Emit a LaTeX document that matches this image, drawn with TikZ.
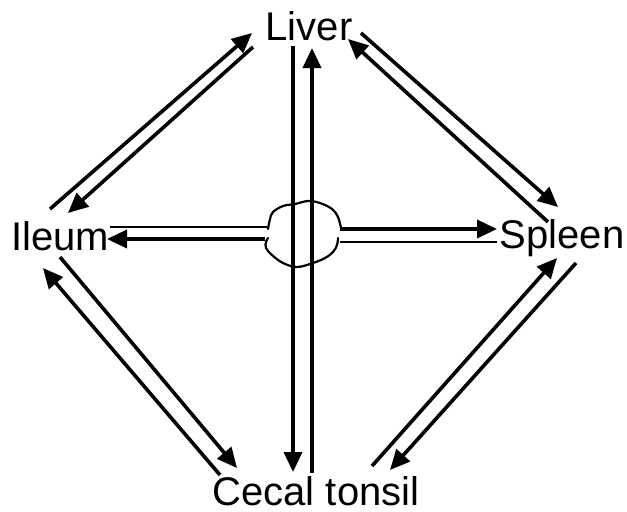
\documentclass[tikz,border=0pt]{standalone}
\usepackage{fontspec}
\setmainfont{Liberation Sans}
\usetikzlibrary{arrows.meta}

\tikzset{
  organ/.style={inner sep=0pt,anchor=base,font=\fontsize{20}{24}\selectfont},
  flow/.style={line width=1.8pt,-{Triangle[length=10pt,width=9pt]}},
  plainline/.style={line width=1.4pt},
  blob/.style={line width=1.1pt,line cap=round,line join=round}
}

\begin{document}
\begin{tikzpicture}[x=0.5pt,y=-0.5pt]
  \useasboundingbox (0,0) rectangle (627,511);

  % organs
  \node[organ] (liver) at (309,40) {Liver};
  \node[organ] (ileum) at (60,250) {Ileum};
  \node[organ] (spleen) at (562,248) {Spleen};
  \node[organ] (cecal) at (316,505) {Cecal tonsil};

  % free ends of the connectors
  \coordinate (il1) at (50,209);   \coordinate (li1) at (252,33);
  \coordinate (li2) at (253,47);   \coordinate (il2) at (68,213);
  \coordinate (li3) at (361,33);   \coordinate (sp3) at (558,207);
  \coordinate (sp4) at (548,222);  \coordinate (li4) at (348,39);
  \coordinate (ce5) at (372,466);  \coordinate (sp5) at (557,258);
  \coordinate (sp6) at (576,263);  \coordinate (ce6) at (390,470);
  \coordinate (il7) at (60,257);   \coordinate (ce7) at (237,468);
  \coordinate (ce8) at (220,475);  \coordinate (il8) at (43,268);
  \coordinate (li9) at (293,46);   \coordinate (ce9) at (293,472);
  \coordinate (ce10) at (312,473); \coordinate (li10) at (312,48);
  \coordinate (bl11) at (265,239); \coordinate (il11) at (107,239);
  \coordinate (bl11b) at (267,227); \coordinate (il11b) at (110,227);
  \coordinate (bl12) at (340,229); \coordinate (sp12) at (497,229);
  \coordinate (bl12b) at (340,242); \coordinate (sp12b) at (497,242);

  % outer square of paired arrows
  \draw[flow] (il1) -- (li1);
  \draw[flow] (li2) -- (il2);
  \draw[flow] (li3) -- (sp3);
  \draw[flow] (sp4) -- (li4);
  \draw[flow] (ce5) -- (sp5);
  \draw[flow] (sp6) -- (ce6);
  \draw[flow] (il7) -- (ce7);
  \draw[flow] (ce8) -- (il8);

  % vertical pair through the centre
  \draw[flow] (li9) -- (ce9);
  \draw[flow] (ce10) -- (li10);

  % horizontal pairs out of the centre
  \draw[flow] (bl11) -- (il11);
  \draw[plainline] (bl11b) -- (il11b);
  \draw[flow] (bl12) -- (sp12);
  \draw[plainline] (bl12b) -- (sp12b);

  % centre blob
  \draw[blob] plot[smooth,tension=0.6] coordinates {(268,229) (270,219) (273,212)
    (283,206) (295,204) (308,201) (320,203) (332,209) (338,217) (341,228)};
  \draw[blob] plot[smooth,tension=0.6] coordinates {(338,238) (337,245) (333,252)
    (325,258) (313,263) (297,267) (283,263) (272,255) (266,248) (266,242) (268,238)};
\end{tikzpicture}
\end{document}
